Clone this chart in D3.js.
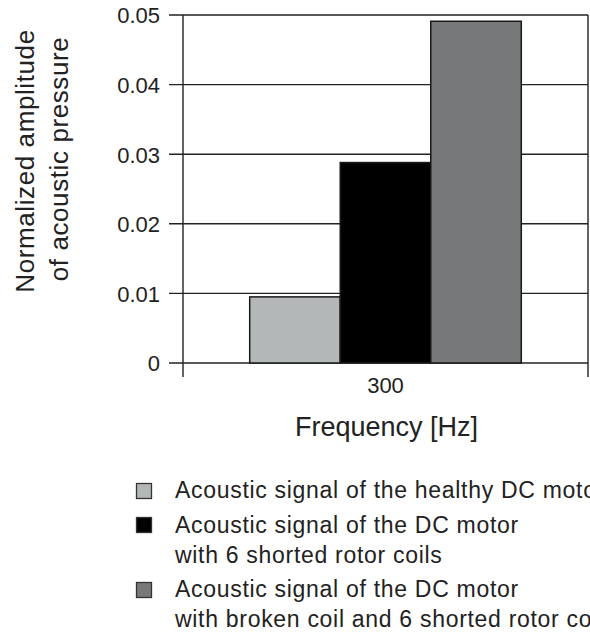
<!DOCTYPE html>
<html>
<head>
<meta charset="utf-8">
<script src="https://cdn.jsdelivr.net/npm/d3@7/dist/d3.min.js"></script>
<style>
  html, body { margin: 0; padding: 0; background: #fff; }
  svg { display: block; }
  text { font-family: "Liberation Sans", Arial, Helvetica, sans-serif; fill: #222; }
</style>
</head>
<body>
<script>
// ---- data ----
const categories = ["300"];
const seriesNames = [
  "healthy",
  "shorted",
  "broken"
];
const seriesValues = {
  healthy: [0.0095],
  shorted: [0.0288],
  broken:  [0.0491]
};
const seriesColors = ["#b4b7b7", "#000000", "#76787a"];
const legendLines = [
  ["Acoustic signal of the healthy DC motor"],
  ["Acoustic signal of the DC motor", "with 6 shorted rotor coils"],
  ["Acoustic signal of the DC motor", "with broken coil and 6 shorted rotor coils"]
];
const yTicks = [0, 0.01, 0.02, 0.03, 0.04, 0.05];
const yTickLabels = ["0", "0.01", "0.02", "0.03", "0.04", "0.05"];
const xTitle = "Frequency [Hz]";
const yTitle = ["Normalized amplitude", "of acoustic pressure"];

// ---- layout ----
const W = 590, H = 633;
const mLeft = 183, mRight = 588, mTop = 15, mBottom = 363;
const lineCol = "#222";

const svg = d3.select("body").append("svg").attr("width", W).attr("height", H);

const y = d3.scaleLinear().domain([0, 0.05]).range([mBottom, mTop]);
const x = d3.scaleBand().domain(categories).range([mLeft, mRight]).paddingInner(0).paddingOuter(0.2456);
const xs = d3.scaleBand().domain(seriesNames).range([0, x.bandwidth()]).padding(0);

// gridlines (including outward tick part)
svg.append("g").selectAll("line").data(yTicks).join("line")
  .attr("x1", mLeft - 14).attr("x2", mRight)
  .attr("y1", d => y(d)).attr("y2", d => y(d))
  .attr("stroke", lineCol).attr("stroke-width", 1.4);

// bars
const g = svg.append("g");
categories.forEach((c, ci) => {
  seriesNames.forEach((s, si) => {
    const v = seriesValues[s][ci];
    g.append("rect")
      .attr("x", x(c) + xs(s))
      .attr("y", y(v))
      .attr("width", xs.bandwidth())
      .attr("height", y(0) - y(v))
      .attr("fill", seriesColors[si])
      .attr("stroke", "#1a1a1a")
      .attr("stroke-width", 1.5);
  });
});

// y axis labels
const yAxis = d3.axisLeft(y).tickValues(yTicks).tickFormat((d, i) => yTickLabels[i]).tickSize(0).tickPadding(23);
const ya = svg.append("g").attr("transform", `translate(${mLeft},0)`).call(yAxis);
ya.select(".domain").remove();
ya.selectAll("text").attr("font-size", 22).attr("fill", "#222").attr("dy", "0.36em")
  .style("font-family", '"Liberation Sans", Arial, sans-serif');

// left & right vertical frame lines, extending below zero
[mLeft, mRight].forEach(xx => {
  svg.append("line").attr("x1", xx).attr("x2", xx)
    .attr("y1", y(0.05)).attr("y2", y(0) + 14)
    .attr("stroke", lineCol).attr("stroke-width", 1.4);
});

// x axis label
const xAxis = d3.axisBottom(x).tickSize(0).tickPadding(14);
const xa = svg.append("g").attr("transform", `translate(0,${mBottom})`).call(xAxis);
xa.select(".domain").remove();
xa.selectAll("text").attr("font-size", 22).attr("fill", "#222")
  .style("font-family", '"Liberation Sans", Arial, sans-serif');

// axis titles
svg.append("text").attr("x", (mLeft + mRight) / 2 + 1).attr("y", 436)
  .attr("text-anchor", "middle").attr("font-size", 27).text(xTitle);

const yt = svg.append("text").attr("transform", "rotate(-90)")
  .attr("text-anchor", "middle").attr("font-size", 26).style("letter-spacing", "0.6px");
yt.append("tspan").attr("x", -161).attr("y", 34).text(yTitle[0]);
yt.append("tspan").attr("x", -159).attr("y", 68).text(yTitle[1]);

// legend
const squareY = [483, 517, 582];
const baseY = [[498], [533, 563], [597, 627]];
legendLines.forEach((lines, i) => {
  svg.append("rect").attr("x", 136.5).attr("y", squareY[i] + 0.5).attr("width", 15).attr("height", 15)
    .attr("fill", seriesColors[i]).attr("stroke", "#333").attr("stroke-width", 1.3);
  lines.forEach((t, j) => {
    svg.append("text").attr("x", 175).attr("y", baseY[i][j])
      .attr("font-size", 23).style("letter-spacing", "0.7px").text(t);
  });
});
</script>
</body>
</html>
